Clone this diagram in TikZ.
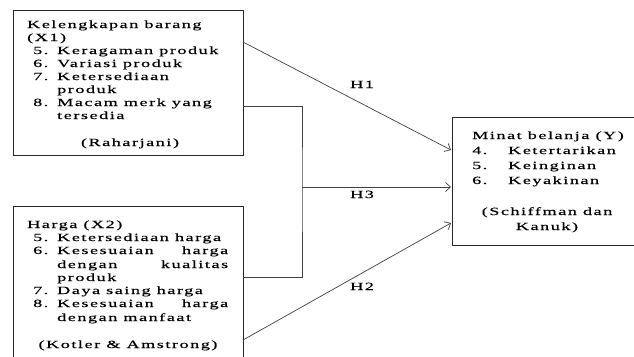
\documentclass[tikz,border=0pt]{standalone}
\usepackage{fontspec}
\setmainfont[FakeStretch=1.65,LetterSpace=14,FakeBold=0.4]{Liberation Serif}
\usetikzlibrary{arrows.meta}
\tikzset{
  box/.style={draw=black!85,line width=1pt,inner sep=0pt,anchor=north west},
  txt/.style={anchor=base west,inner sep=0pt,font=\fontsize{11}{13}\selectfont},
  mid/.style={txt,anchor=base},
  link/.style={draw=black!75,line width=0.7pt},
  arr/.style={link,-{Straight Barb[length=5pt,width=9pt]}}
}
\begin{document}
\begin{tikzpicture}[x=1pt,y=-1pt]
\useasboundingbox (0,0) rectangle (634,356);
\clip (0,0) rectangle (634,356);
\node[box,minimum width=230pt,minimum height=145pt] (x1) at (13,10) {};
\node[box,minimum width=230pt,minimum height=170pt] (x2) at (13,206) {};
\node[box,minimum width=200pt,minimum height=128pt] (y) at (452,117) {};
% X1
\node[txt] (x1t) at (27,28) {Kelengkapan barang};
\node[txt] (x1u) at (27,41) {(X1)};
\foreach \n/\t/\yy in {5/Keragaman produk/54, 6/Variasi produk/67, 7/Ketersediaan/80, 8/Macam merk yang/106}
  {\node[txt] (x1n\n) at (33,\yy) {\n.}; \node[txt] (x1i\n) at (57,\yy) {\t};}
\node[txt] (x1i7b) at (57,93) {produk};
\node[txt] (x1i8b) at (57,119) {tersedia};
\node[mid] (x1s) at (130,146) {(Raharjani)};
% X2
\node[txt] (x2t) at (27,228) {Harga (X2)};
\foreach \n/\yy in {5/241, 6/254, 7/294, 8/307}
  {\node[txt] (x2n\n) at (33,\yy) {\n.};}
\node[txt] (x2i5) at (57,241) {Ketersediaan harga};
\node[txt] (x2i6) at (57,254) {\makebox[171pt][s]{Kesesuaian harga}};
\node[txt] (x2i6b) at (57,268) {\makebox[171pt][s]{dengan kualitas}};
\node[txt] (x2i6c) at (57,281) {produk};
\node[txt] (x2i7) at (57,294) {Daya saing harga};
\node[txt] (x2i8) at (57,307) {\makebox[171pt][s]{Kesesuaian harga}};
\node[txt] (x2i8b) at (57,321) {dengan manfaat};
\node[mid] (x2s) at (128,348) {(Kotler \& Amstrong)};
% Y
\node[txt] (yt) at (472,139) {Minat belanja (Y)};
\foreach \n/\t/\yy in {4/Ketertarikan/154, 5/Keinginan/169, 6/Keyakinan/184}
  {\node[txt] (yn\n) at (472,\yy) {\n.}; \node[txt] (yi\n) at (508,\yy) {\t};}
\node[mid] (ys) at (547,215) {(Schiffman dan};
\node[mid] (ys2) at (547,230) {Kanuk)};
% connectors
\coordinate (a1) at (243,42);
\coordinate (b1) at (451,150);
\coordinate (a2) at (243,340);
\coordinate (b2) at (451,223);
\coordinate (c1) at (243,106);
\coordinate (c2) at (243,277);
\coordinate (j) at (302,187);
\coordinate (b3) at (451,187);
\draw[arr] (a1) -- (b1);
\draw[arr] (a2) -- (b2);
\draw[link] (c1) -| (j) |- (c2);
\draw[arr] (j) -- (b3);
\node[txt] (h1) at (350,88) {H1};
\node[txt] (h3) at (350,198) {H3};
\node[txt] (h2) at (350,290) {H2};
\end{tikzpicture}
\end{document}
